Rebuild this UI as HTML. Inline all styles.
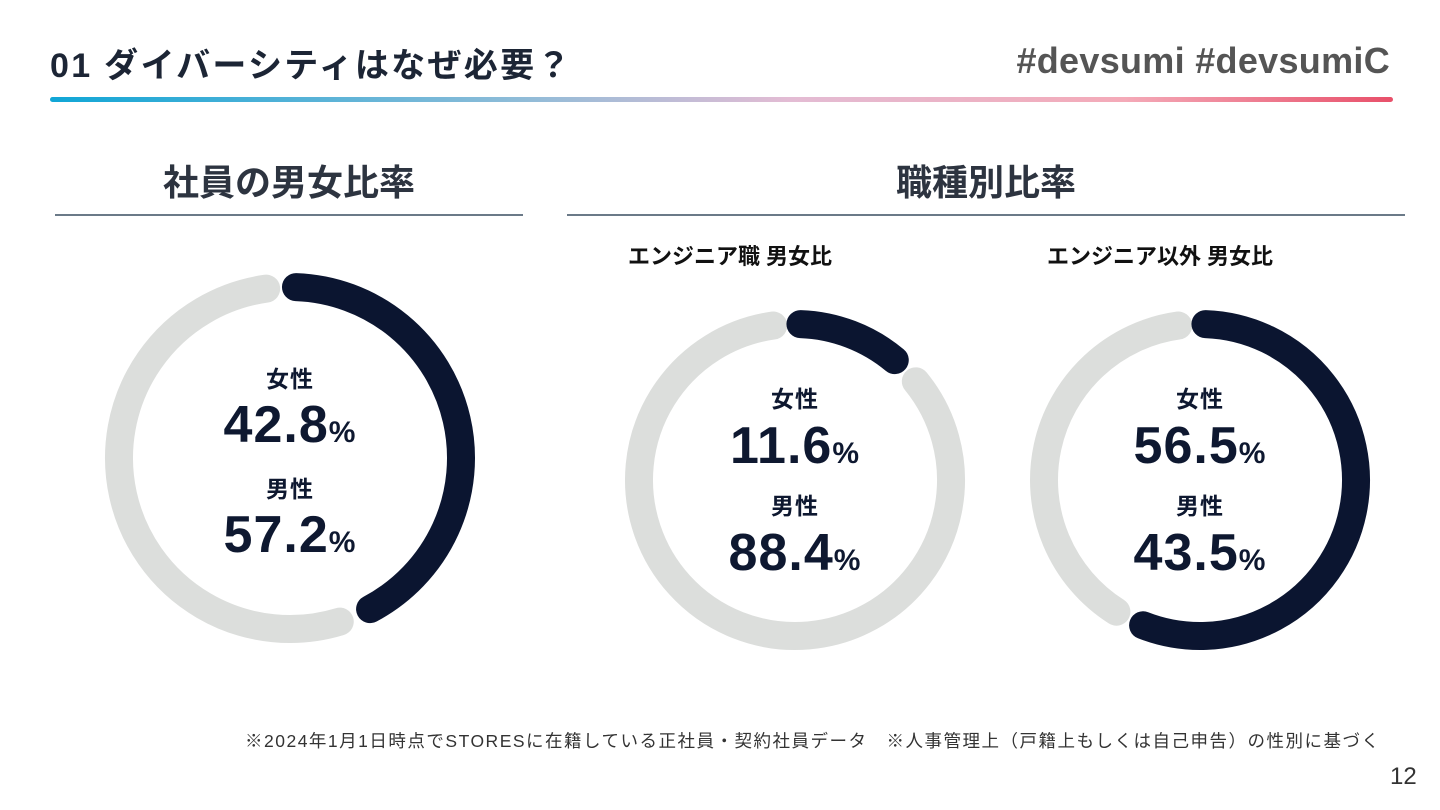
<!DOCTYPE html>
<html><head><meta charset="utf-8"><style>
body{margin:0;width:1440px;height:810px;background:#fff;overflow:hidden;font-family:"Liberation Sans","Noto Sans CJK JP",sans-serif;position:relative}
.a{position:absolute;white-space:nowrap}
</style></head><body>
<div class="a" style="left:50px;top:38px;font-size:34px;letter-spacing:2.3px;font-weight:bold;color:#1c2535">01 ダイバーシティはなぜ必要？</div>
<div class="a" style="right:50px;top:40px;font-size:36px;letter-spacing:0.3px;font-weight:bold;color:#555">#devsumi #devsumiC</div>
<div class="a" style="left:50px;top:97px;width:1343px;height:5px;border-radius:3px;background:linear-gradient(90deg,#10a6d6,#8fbcd8 35%,#e3bcd4 55%,#f4aab8 80%,#e8506a)"></div>
<div class="a" style="left:55px;width:468px;top:154px;text-align:center;font-size:36px;font-weight:bold;color:#2d3440">社員の男女比率</div>
<div class="a" style="left:567px;width:838px;top:154px;text-align:center;font-size:36px;font-weight:bold;color:#2d3440">職種別比率</div>
<div class="a" style="left:55px;width:468px;top:214px;height:2px;background:#6b7a88"></div>
<div class="a" style="left:567px;width:838px;top:214px;height:2px;background:#6b7a88"></div>
<div class="a" style="left:580px;width:300px;top:239px;text-align:center;font-size:22px;font-weight:bold;color:#111">エンジニア職 男女比</div>
<div class="a" style="left:1010px;width:300px;top:239px;text-align:center;font-size:22px;font-weight:bold;color:#111">エンジニア以外 男女比</div>
<svg class="a" id="chart" style="left:0;top:0" width="1440" height="810"></svg>
<div class="a" style="left:245px;top:728px;font-size:17.5px;letter-spacing:1.5px;color:#333">※2024年1月1日時点でSTORESに在籍している正社員・契約社員データ　※人事管理上（戸籍上もしくは自己申告）の性別に基づく</div>
<div class="a" style="left:1390px;top:763px;font-size:24px;color:#333">12</div>
<script>
const chartNames=["donut-all","donut-engineer","donut-non-engineer"];
const femaleValues=[42.8,11.6,56.5];
const maleValues=[57.2,88.4,43.5];
const centers=[[290,458,171],[795,480,156],[1200,480,156]];
const textTops=[[378,425,488,535],[398,446,505,553],[398,446,505,553]];
const NS="http://www.w3.org/2000/svg";
const svg=document.getElementById('chart');
function pt(cx,cy,r,deg){const a=(deg-90)*Math.PI/180;return [cx+r*Math.cos(a),cy+r*Math.sin(a)];}
function arc(cx,cy,r,a0,a1,color,name){
  const p0=pt(cx,cy,r,a0),p1=pt(cx,cy,r,a1);const large=(a1-a0)>180?1:0;
  const p=document.createElementNS(NS,'path');
  p.setAttribute('d',`M${p0[0]} ${p0[1]} A${r} ${r} 0 ${large} 1 ${p1[0]} ${p1[1]}`);
  p.setAttribute('fill','none');p.setAttribute('stroke',color);p.setAttribute('stroke-width','28');p.setAttribute('stroke-linecap','round');
  
  
  svg.appendChild(p);
}
function txt(x,y,s,size,name){
  const t=document.createElementNS(NS,'text');
  t.setAttribute('x',x);t.setAttribute('y',y);t.setAttribute('text-anchor','middle');
  t.setAttribute('font-size',size);t.setAttribute('font-weight','bold');t.setAttribute('fill','#0e1830');
  t.setAttribute('letter-spacing','1');
  t.setAttribute('font-family','"Liberation Sans","Noto Sans CJK JP",sans-serif');
  t.innerHTML=s;
  
  
  svg.appendChild(t);
}
for(let i=0;i<femaleValues.length;i++){
  const [cx,cy,r]=centers[i];const f=femaleValues[i]*3.6;
  arc(cx,cy,r,f+9,360-8,'#dcdedc',chartNames[i]+'-male-arc');
  arc(cx,cy,r,2,f-2,'#0b1530',chartNames[i]+'-female-arc');
  const tt=textTops[i];
  txt(cx,tt[0]+9,'女性',23,chartNames[i]+'-female-label');
  txt(cx,tt[1]+17,femaleValues[i].toFixed(1)+'<tspan font-size="30">%</tspan>',52,chartNames[i]+'-female-value');
  txt(cx,tt[2]+9,'男性',23,chartNames[i]+'-male-label');
  txt(cx,tt[3]+17,maleValues[i].toFixed(1)+'<tspan font-size="30">%</tspan>',52,chartNames[i]+'-male-value');
}
</script>
</body></html>
